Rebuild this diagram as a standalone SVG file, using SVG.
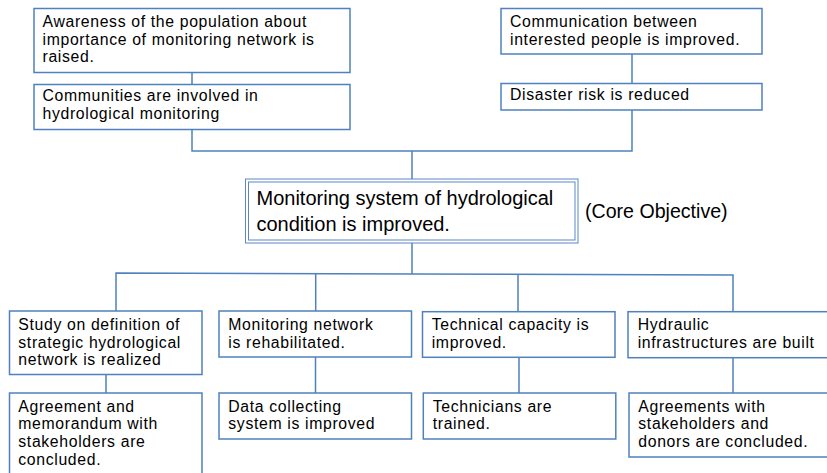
<svg xmlns="http://www.w3.org/2000/svg" width="827" height="473" viewBox="0 0 827 473">
<style>
.box{fill:#ffffff;stroke:#4f81bd;stroke-width:1.5}
.core{fill:none;stroke:#5b87c4;stroke-width:1}
.t{font-family:"Liberation Sans",Arial,sans-serif;font-size:15.8px;letter-spacing:0.65px;fill:#000}
.tc{font-family:"Liberation Sans",Arial,sans-serif;font-size:20px;fill:#000}
.conn{fill:none;stroke:#4f81bd;stroke-width:1.5}
</style>
<rect width="827" height="473" fill="#ffffff"/>
<g id="connectors">
<path class="conn" d="M192,72 V84"/>
<path class="conn" d="M192,129 V151 H632 V110"/>
<path class="conn" d="M632,54 V83"/>
<path class="conn" d="M412,151 V179"/>
<path class="conn" d="M412,243 V274"/>
<path class="conn" d="M116,311 V273 L412,274 L733,275 V312"/>
<path class="conn" d="M315.7,273.5 V311"/>
<path class="conn" d="M518,274.5 V312"/>
<path class="conn" d="M106,374 V393"/>
<path class="conn" d="M315.5,357 V393"/>
<path class="conn" d="M519,357 V393"/>
<path class="conn" d="M733,358 V393"/>
</g>
<g id="awareness">
<rect class="box" x="34" y="8.5" width="316" height="64"/>
<text class="t" x="42.5" y="26.7">Awareness of the population about</text>
<text class="t" x="42.5" y="44.5">importance of monitoring network is</text>
<text class="t" x="42.5" y="62.3">raised.</text>
</g>
<g id="communities">
<rect class="box" x="34" y="84.5" width="316" height="45"/>
<text class="t" x="42.5" y="100.7">Communities are involved in</text>
<text class="t" x="42.5" y="119">hydrological monitoring</text>
</g>
<g id="communication">
<rect class="box" x="501" y="8.5" width="261" height="45.5"/>
<text class="t" x="510" y="26.7">Communication between</text>
<text class="t" x="510" y="44.7">interested people is improved.</text>
</g>
<g id="disaster">
<rect class="box" x="501" y="83.5" width="261" height="26.5"/>
<text class="t" x="510" y="100">Disaster risk is reduced</text>
</g>
<g id="core">
<rect x="245.5" y="179" width="332.5" height="64" fill="#ffffff" stroke="none"/>
<rect class="core" x="245.5" y="179" width="332.5" height="64"/>
<rect class="core" x="248.5" y="182" width="326.5" height="58"/>
<text class="tc" x="256.5" y="205">Monitoring system of hydrological</text>
<text class="tc" x="256.5" y="230.7">condition is improved.</text>
</g>
<g id="core-label">
<text class="tc" x="585" y="218.3" style="font-size:19.6px">(Core Objective)</text>
</g>
<g id="study">
<rect class="box" x="9.5" y="311" width="192.5" height="63.5"/>
<text class="t" x="18.3" y="330">Study on definition of</text>
<text class="t" x="18.3" y="347.7">strategic hydrological</text>
<text class="t" x="18.3" y="365.4">network is realized</text>
</g>
<g id="rehab">
<rect class="box" x="219" y="311" width="192.5" height="46"/>
<text class="t" x="228.3" y="330">Monitoring network</text>
<text class="t" x="228.3" y="347.7">is rehabilitated.</text>
</g>
<g id="technical">
<rect class="box" x="422.5" y="311.7" width="192.5" height="45.6"/>
<text class="t" x="431.7" y="330">Technical capacity is</text>
<text class="t" x="431.7" y="347.7">improved.</text>
</g>
<g id="hydraulic">
<rect class="box" x="628" y="311.7" width="202" height="46"/>
<text class="t" x="637.7" y="330">Hydraulic</text>
<text class="t" x="637.7" y="347.7">infrastructures are built</text>
</g>
<g id="agreement">
<rect class="box" x="9.5" y="393" width="192.5" height="90"/>
<text class="t" x="18.3" y="411.7">Agreement and</text>
<text class="t" x="18.3" y="429.4">memorandum with</text>
<text class="t" x="18.3" y="447.1">stakeholders are</text>
<text class="t" x="18.3" y="464.8">concluded.</text>
</g>
<g id="data">
<rect class="box" x="219" y="393" width="192.5" height="46"/>
<text class="t" x="228.3" y="411.7">Data collecting</text>
<text class="t" x="228.3" y="429.4">system is improved</text>
</g>
<g id="technicians">
<rect class="box" x="423.3" y="393" width="192.5" height="46"/>
<text class="t" x="432.7" y="411.7">Technicians are</text>
<text class="t" x="432.7" y="429.4">trained.</text>
</g>
<g id="agreements">
<rect class="box" x="629" y="393" width="201" height="64"/>
<text class="t" x="638.3" y="411.7">Agreements with</text>
<text class="t" x="638.3" y="429.4">stakeholders and</text>
<text class="t" x="638.3" y="447.1">donors are concluded.</text>
</g>
</svg>
